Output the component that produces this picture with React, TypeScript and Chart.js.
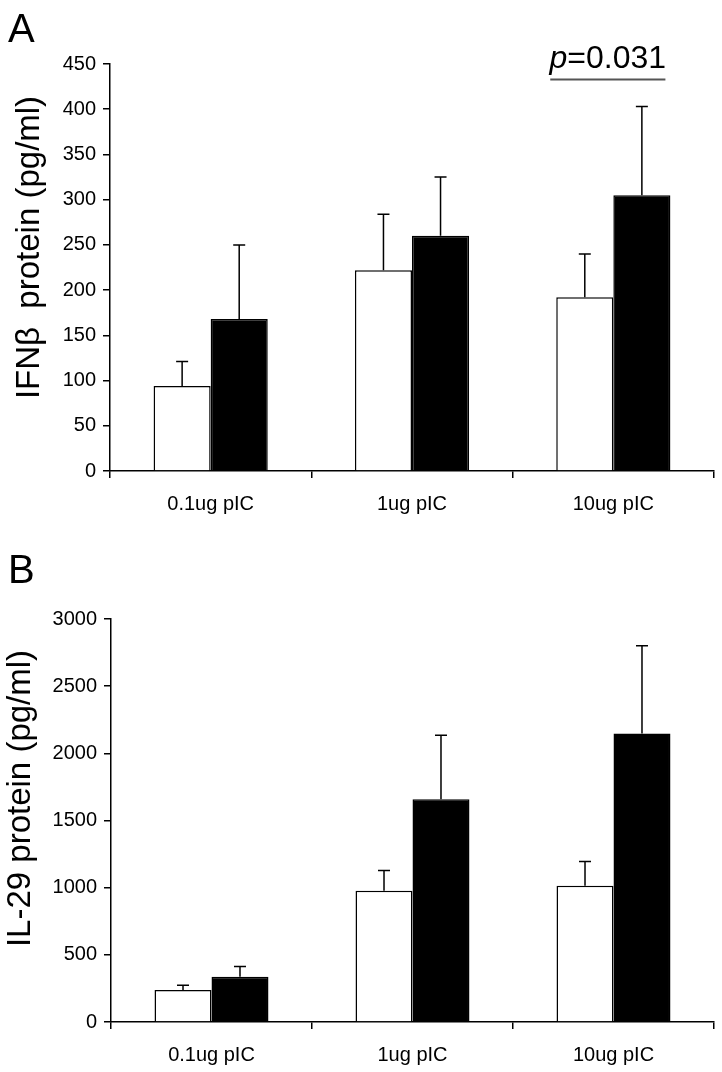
import React, { useEffect, useRef } from 'react';
import { Chart, registerables } from 'chart.js';

Chart.register(...registerables);

// ---------- data ----------
const categories = ['0.1ug pIC', '1ug pIC', '10ug pIC'];

const ifnTicksMax = 450;
const ifnTickStep = 50;
const ifnWhite = [94, 222, 192];
const ifnWhiteErr = [27, 62, 48];
const ifnBlack = [168, 260, 305];
const ifnBlackErr = [82, 65, 98];
const ifnPValueText = '=0.031';
const ifnPLineLevel = 433; // data level of the significance bar

const il29TicksMax = 3000;
const il29TickStep = 500;
const il29White = [238, 977, 1015];
const il29WhiteErr = [35, 150, 180];
const il29Black = [337, 1658, 2147];
const il29BlackErr = [76, 476, 653];

const FONT = '"Liberation Sans", Arial, Helvetica, sans-serif';

type PanelProps = {
  top: number;
  height: number;
  letter: string;
  letterY: number;
  title: string;
  titleX: number;
  titleShift: number;
  padTop: number;
  yWidth: number;
  xHeight: number;
  max: number;
  step: number;
  white: number[];
  whiteErr: number[];
  black: number[];
  blackErr: number[];
  pText?: string;
  pLevel?: number;
};

const decorPlugin = {
  id: 'decor',
  afterDatasetsDraw(chart: any) {
    const ctx = chart.ctx;
    const yScale = chart.scales.y;
    ctx.save();
    ctx.strokeStyle = '#000';
    ctx.lineWidth = 1.5;
    chart.data.datasets.forEach((ds: any, i: number) => {
      const meta = chart.getDatasetMeta(i);
      meta.data.forEach((el: any, j: number) => {
        const v = ds.data[j];
        const e = ds.errors[j];
        const yTop = yScale.getPixelForValue(v + e);
        ctx.beginPath();
        ctx.moveTo(el.x, el.y);
        ctx.lineTo(el.x, yTop);
        ctx.moveTo(el.x - 6, yTop);
        ctx.lineTo(el.x + 6, yTop);
        ctx.stroke();
      });
    });
    ctx.restore();
  },
  afterDraw(chart: any, _args: any, opts: any) {
    const ctx = chart.ctx;
    const ca = chart.chartArea;
    ctx.save();
    ctx.fillStyle = '#000';
    // panel letter
    ctx.font = `40px ${FONT}`;
    ctx.textAlign = 'left';
    ctx.textBaseline = 'alphabetic';
    ctx.fillText(opts.letter, 8, opts.letterY);

    // p-value annotation
    if (opts.pText) {
      const yScale = chart.scales.y;
      const w = chart.getDatasetMeta(0).data[2];
      const b = chart.getDatasetMeta(1).data[2];
      const x0 = w.x - w.width / 2 - 6;
      const x1 = b.x + b.width / 2 - 5;
      const ly = yScale.getPixelForValue(opts.pLevel);
      ctx.strokeStyle = '#555';
      ctx.lineWidth = 2;
      ctx.beginPath();
      ctx.moveTo(x0, ly);
      ctx.lineTo(x1, ly);
      ctx.stroke();
      ctx.font = `italic 32px ${FONT}`;
      const wp = ctx.measureText('p').width;
      ctx.font = `32px ${FONT}`;
      const wr = ctx.measureText(opts.pText).width;
      const start = (x0 + x1) / 2 - (wp + wr) / 2;
      ctx.font = `italic 32px ${FONT}`;
      ctx.fillText('p', start, ly - 11);
      ctx.font = `32px ${FONT}`;
      ctx.fillText(opts.pText, start + wp, ly - 11);
    }

    // y-axis title
    ctx.translate(opts.titleX, (ca.top + ca.bottom) / 2 + opts.titleShift);
    ctx.rotate(-Math.PI / 2);
    ctx.font = `33px ${FONT}`;
    ctx.textAlign = 'center';
    ctx.textBaseline = 'middle';
    ctx.fillText(opts.title, 0, 0);
    ctx.restore();
  },
};

function Panel(p: PanelProps) {
  const ref = useRef<HTMLCanvasElement>(null);
  useEffect(() => {
    if (!ref.current) return;
    const chart = new Chart(ref.current, {
      type: 'bar',
      data: {
        labels: categories,
        datasets: [
          {
            data: p.white,
            errors: p.whiteErr,
            backgroundColor: '#ffffff',
            borderColor: '#000000',
            borderWidth: 1.5,
            categoryPercentage: 0.567,
            barPercentage: 1.0,
          } as any,
          {
            data: p.black,
            errors: p.blackErr,
            backgroundColor: '#000000',
            borderColor: '#000000',
            borderWidth: 1.5,
            categoryPercentage: 0.567,
            barPercentage: 1.0,
          } as any,
        ],
      },
      options: {
        responsive: false,
        animation: false,
        layout: { autoPadding: false, padding: { left: 0, right: 8, top: p.padTop, bottom: 0 } },
        plugins: {
          legend: { display: false },
          tooltip: { enabled: false },
          decor: {
            letter: p.letter,
            letterY: p.letterY,
            title: p.title,
            titleX: p.titleX,
            titleShift: p.titleShift,
            pText: p.pText,
            pLevel: p.pLevel,
          },
        } as any,
        scales: {
          x: {
            offset: true,
            grid: {
              display: true,
              offset: true,
              drawOnChartArea: false,
              drawTicks: true,
              tickLength: 7,
              color: '#000',
              lineWidth: 1.5,
            },
            border: { display: true, color: '#000', width: 1.5 },
            ticks: {
              color: '#000',
              font: { family: FONT, size: 20 },
              padding: 14,
              maxRotation: 0,
              autoSkip: false,
            },
            afterFit: (s: any) => {
              s.height = p.xHeight;
            },
          },
          y: {
            min: 0,
            max: p.max,
            grid: {
              display: true,
              drawOnChartArea: false,
              drawTicks: true,
              tickLength: 7,
              color: '#000',
              lineWidth: 1.5,
            },
            border: { display: true, color: '#000', width: 1.5 },
            ticks: {
              stepSize: p.step,
              color: '#000',
              font: { family: FONT, size: 20 },
              padding: 7,
              callback: (v: any) => String(v),
            },
            afterFit: (s: any) => {
              s.width = p.yWidth;
            },
          },
        },
      },
      plugins: [decorPlugin as any],
    });
    return () => chart.destroy();
  }, []);
  return (
    <canvas
      ref={ref}
      width={722}
      height={p.height}
      style={{ position: 'absolute', left: 0, top: p.top, width: 722, height: p.height }}
    />
  );
}

export default function App() {
  useEffect(() => {
    document.body.style.margin = '0';
  }, []);
  return (
    <div style={{ position: 'relative', width: 722, height: 1072, background: '#fff' }}>
      <Panel
        top={0}
        height={530}
        letter="A"
        letterY={42}
        title="IFNβ  protein (pg/ml)"
        titleX={30}
        titleShift={-20}
        padTop={64}
        yWidth={110}
        xHeight={59}
        max={ifnTicksMax}
        step={ifnTickStep}
        white={ifnWhite}
        whiteErr={ifnWhiteErr}
        black={ifnBlack}
        blackErr={ifnBlackErr}
        pText={ifnPValueText}
        pLevel={ifnPLineLevel}
      />
      <Panel
        top={530}
        height={542}
        letter="B"
        letterY={53}
        title="IL-29 protein (pg/ml)"
        titleX={21}
        titleShift={-22}
        padTop={89}
        yWidth={111}
        xHeight={50}
        max={il29TicksMax}
        step={il29TickStep}
        white={il29White}
        whiteErr={il29WhiteErr}
        black={il29Black}
        blackErr={il29BlackErr}
      />
    </div>
  );
}
